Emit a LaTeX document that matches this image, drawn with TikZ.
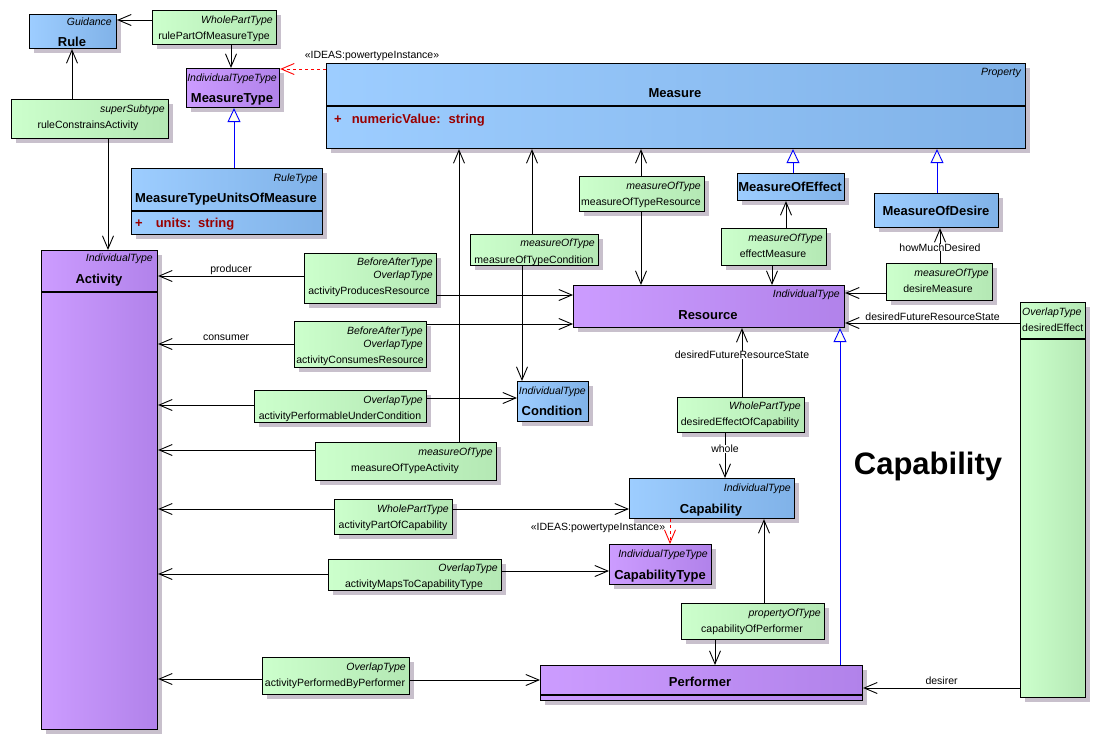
\documentclass[tikz,border=0pt]{standalone}
\usepackage{fontspec}
\setmainfont{Liberation Sans}
\usetikzlibrary{arrows.meta,shadows}

\definecolor{blueL}{HTML}{9DCDFF}
\definecolor{blueR}{HTML}{80B2E8}
\definecolor{purpL}{HTML}{CC9CFF}
\definecolor{purpR}{HTML}{B182EA}
\definecolor{greenL}{HTML}{CCFFCC}
\definecolor{greenR}{HTML}{B4E8B4}
\definecolor{shadowgrey}{HTML}{C8C0CC}
\definecolor{attrred}{HTML}{990000}
\definecolor{tipfill}{HTML}{FFFFF0}

\begin{document}
\begin{tikzpicture}[x=1pt,y=-1pt,
  umlbox/.style={draw,line width=1.1pt,anchor=north west,inner sep=0pt,
    drop shadow={shadow xshift=4pt,shadow yshift=-4pt,opacity=1,fill=shadowgrey}},
  bluebox/.style={umlbox,left color=blueL,right color=blueR},
  purplebox/.style={umlbox,left color=purpL,right color=purpR},
  greenbox/.style={umlbox,left color=greenL,right color=greenR},
  txt/.style={inner sep=0pt,text height=7.5pt,text depth=0pt,font=\fontsize{10.5}{12}\selectfont},
  ster/.style={txt,anchor=east,font=\fontsize{10.5}{12}\selectfont\itshape},
  nm/.style={inner sep=0pt,text height=9.3pt,text depth=0pt,font=\fontsize{13}{15}\selectfont\bfseries},
  attr/.style={nm,anchor=west,text=attrred},
  nav/.style={line width=0.9pt,-{Straight Barb[length=13pt,width=11pt]}},
  gen/.style={line width=0.9pt,blue,-{Triangle[length=14pt,width=13pt,fill=tipfill]}},
  dep/.style={line width=0.9pt,red,dashed,-{Straight Barb[length=13pt,width=11pt]}},
  sep/.style={line width=1.1pt}
]
\useasboundingbox (0,0) rectangle (1096,740);

% Rule and measure types
\node[bluebox,minimum width=87,minimum height=34] (rule) at (29,14) {};
\node[ster] (rule-st) at (112,22) {Guidance};
\node[nm] (rule-nm) at (72,42) {Rule};

\node[greenbox,minimum width=124,minimum height=34] (rpomt) at (152,10) {};
\node[ster] (rpomt-st) at (273,20) {WholePartType};
\node[txt] (rpomt-nm) at (214,36) {rulePartOfMeasureType};

\node[purplebox,minimum width=93,minimum height=39] (mtype) at (186,68) {};
\node[ster] (mtype-st) at (277,78) {IndividualTypeType};
\node[nm] (mtype-nm) at (232,98) {MeasureType};

\node[greenbox,minimum width=157,minimum height=39] (rca) at (11,99) {};
\node[ster] (rca-st) at (165,109) {superSubtype};
\node[txt] (rca-nm) at (88,125) {ruleConstrainsActivity};

\node[bluebox,minimum width=191,minimum height=66] (mtuom) at (131,168) {};
\draw[sep] (mtuom.west |- 0,211) -- (mtuom.east |- 0,211);
\node[ster] (mtuom-st) at (318,178) {RuleType};
\node[nm] (mtuom-nm) at (226,198) {MeasureTypeUnitsOfMeasure};
\node[attr] (mtuom-at) at (135,223) {+\hspace{13pt}units:\hspace{7pt}string};

% Measure
\node[bluebox,minimum width=699,minimum height=85] (measure) at (326,63) {};
\draw[sep] (measure.west |- 0,106) -- (measure.east |- 0,106);
\node[ster] (measure-st) at (1021,72) {Property};
\node[nm] (measure-nm) at (675,93) {Measure};
\node[attr] (measure-at) at (334,119) {+\hspace{10pt}numericValue:\hspace{8pt}string};
\node[txt] (pti1) at (372,55) {«IDEAS:powertypeInstance»};

\node[greenbox,minimum width=125,minimum height=35] (mofr) at (579,176) {};
\node[ster] (mofr-st) at (701,186) {measureOfType};
\node[txt] (mofr-nm) at (641,202) {measureOfTypeResource};

\node[bluebox,minimum width=107,minimum height=27] (moe) at (737,173) {};
\node[nm] (moe-nm) at (790,187) {MeasureOfEffect};

\node[bluebox,minimum width=124,minimum height=34] (mod) at (874,193) {};
\node[nm] (mod-nm) at (936,211) {MeasureOfDesire};

\node[greenbox,minimum width=105,minimum height=37] (em) at (721,228) {};
\node[ster] (em-st) at (823,238) {measureOfType};
\node[txt] (em-nm) at (773,254) {effectMeasure};

\node[greenbox,minimum width=106,minimum height=37] (dm) at (886,263) {};
\node[ster] (dm-st) at (989,273) {measureOfType};
\node[txt] (dm-nm) at (938,289) {desireMeasure};

\node[greenbox,minimum width=128,minimum height=31] (moc) at (470,234) {};
\node[ster] (moc-st) at (595,243) {measureOfType};
\node[txt] (moc-nm) at (534,260) {measureOfTypeCondition};

% Activity and its relations
\node[purplebox,minimum width=116,minimum height=479] (activity) at (41,250) {};
\draw[sep] (activity.west |- 0,292) -- (activity.east |- 0,292);
\node[ster] (activity-st) at (153,258) {IndividualType};
\node[nm] (activity-nm) at (99,279) {Activity};

\node[greenbox,minimum width=132,minimum height=50] (apr) at (304,253) {};
\node[ster] (apr-st1) at (433,262) {BeforeAfterType};
\node[ster] (apr-st2) at (433,275) {OverlapType};
\node[txt] (apr-nm) at (369,291) {activityProducesResource};

\node[greenbox,minimum width=132,minimum height=46] (acr) at (294,321) {};
\node[ster] (acr-st1) at (423,331) {BeforeAfterType};
\node[ster] (acr-st2) at (423,344) {OverlapType};
\node[txt] (acr-nm) at (360,360) {activityConsumesResource};

\node[greenbox,minimum width=172,minimum height=32] (apuc) at (254,390) {};
\node[ster] (apuc-st) at (423,400) {OverlapType};
\node[txt] (apuc-nm) at (340,416) {activityPerformableUnderCondition};

\node[greenbox,minimum width=181,minimum height=38] (mota) at (315,442) {};
\node[ster] (mota-st) at (493,452) {measureOfType};
\node[txt] (mota-nm) at (405,468) {measureOfTypeActivity};

\node[greenbox,minimum width=118,minimum height=35] (apoc) at (334,499) {};
\node[ster] (apoc-st) at (449,509) {WholePartType};
\node[txt] (apoc-nm) at (393,525) {activityPartOfCapability};

\node[greenbox,minimum width=173,minimum height=31] (amtct) at (328,559) {};
\node[ster] (amtct-st) at (498,568) {OverlapType};
\node[txt] (amtct-nm) at (414,584) {activityMapsToCapabilityType};

\node[greenbox,minimum width=147,minimum height=37] (apbp) at (262,657) {};
\node[ster] (apbp-st) at (406,667) {OverlapType};
\node[txt] (apbp-nm) at (335,683) {activityPerformedByPerformer};

% Resource, condition, capability
\node[purplebox,minimum width=271,minimum height=42] (resource) at (573,285) {};
\node[ster] (resource-st) at (840,294) {IndividualType};
\node[nm] (resource-nm) at (708,315) {Resource};

\node[greenbox,minimum width=65,minimum height=395] (de) at (1020,302) {};
\draw[sep] (de.west |- 0,339) -- (de.east |- 0,339);
\node[ster,anchor=west] (de-st) at (1022,312) {OverlapType};
\node[txt,anchor=west] (de-nm) at (1022,328) {desiredEffect};

\node[bluebox,minimum width=71,minimum height=40] (condition) at (517,381) {};
\node[ster] (condition-st) at (586,391) {IndividualType};
\node[nm] (condition-nm) at (552,411) {Condition};

\node[greenbox,minimum width=127,minimum height=35] (deoc) at (677,397) {};
\node[ster] (deoc-st) at (801,406) {WholePartType};
\node[txt] (deoc-nm) at (740,422) {desiredEffectOfCapability};

\node[bluebox,minimum width=165,minimum height=40] (capability) at (629,478) {};
\node[ster] (capability-st) at (791,488) {IndividualType};
\node[nm] (capability-nm) at (711,509) {Capability};

\node[purplebox,minimum width=102,minimum height=40] (captype) at (609,544) {};
\node[ster] (captype-st) at (708,554) {IndividualTypeType};
\node[nm] (captype-nm) at (660,575) {CapabilityType};
\node[txt] (pti2) at (598,527) {«IDEAS:powertypeInstance»};

\node[greenbox,minimum width=143,minimum height=36] (cop) at (681,603) {};
\node[ster] (cop-st) at (821,613) {propertyOfType};
\node[txt] (cop-nm) at (752,629) {capabilityOfPerformer};

\node[purplebox,minimum width=322,minimum height=35] (performer) at (540,665) {};
\draw[sep] (performer.west |- 0,695) -- (performer.east |- 0,695);
\node[nm] (performer-nm) at (700,682) {Performer};

\node[inner sep=0pt,font=\fontsize{31}{36}\selectfont\bfseries] (title) at (928,466) {Capability};

% connectors
\draw[nav] (rpomt.west |- 0,20) -- (rule.east |- 0,20);
\draw[nav] (rpomt.south -| 231,0) -- (mtype.north -| 231,0);
\draw[nav] (rca.north -| 72,0) -- (rule.south -| 72,0);
\draw[nav] (rca.south -| 108,0) -- (activity.north -| 108,0);
\draw[gen] (mtuom.north -| 234,0) -- (mtype.south -| 234,0);
\draw[dep] (measure.west |- 0,69) -- (mtype.east |- 0,69);
\draw[nav] (mota.north -| 459,0) -- (measure.south -| 459,0);
\draw[nav] (moc.north -| 532,0) -- (measure.south -| 532,0);
\draw[nav] (moc.south -| 522,0) -- (condition.north -| 522,0);
\draw[nav] (mofr.north -| 641,0) -- (measure.south -| 641,0);
\draw[nav] (mofr.south -| 641,0) -- (resource.north -| 641,0);
\draw[gen] (moe.north -| 793,0) -- (measure.south -| 793,0);
\draw[gen] (mod.north -| 937,0) -- (measure.south -| 937,0);
\draw[nav] (em.north -| 786,0) -- (moe.south -| 786,0);
\draw[nav] (em.south -| 772,0) -- (resource.north -| 772,0);
\draw[nav] (dm.north -| 940,0) -- node[txt,fill=white,pos=0.45] {howMuchDesired} (mod.south -| 940,0);
\draw[nav] (dm.west |- 0,293) -- (resource.east |- 0,293);
\draw[nav] (de.west |- 0,323) -- node[txt,above=2pt] {desiredFutureResourceState} (resource.east |- 0,323);
\draw[nav] (apr.west |- 0,276) -- node[txt,above=3pt] {producer} (activity.east |- 0,276);
\draw[nav] (apr.east |- 0,295) -- (resource.west |- 0,295);
\draw[nav] (acr.west |- 0,344) -- node[txt,above=3pt] {consumer} (activity.east |- 0,344);
\draw[nav] (acr.east |- 0,324) -- (resource.west |- 0,324);
\draw[nav] (apuc.west |- 0,405) -- (activity.east |- 0,405);
\draw[nav] (apuc.east |- 0,398) -- (condition.west |- 0,398);
\draw[nav] (mota.west |- 0,450) -- (activity.east |- 0,450);
\draw[nav] (deoc.north -| 742,0) -- node[txt,fill=white,pos=0.61] {desiredFutureResourceState} (resource.south -| 742,0);
\draw[nav] (deoc.south -| 725,0) -- node[txt,fill=white,pos=0.35] {whole} (capability.north -| 725,0);
\draw[nav] (apoc.west |- 0,509) -- (activity.east |- 0,509);
\draw[nav] (apoc.east |- 0,509) -- (capability.west |- 0,509);
\draw[dep] (capability.south -| 670,0) -- (captype.north -| 670,0);
\draw[nav] (amtct.west |- 0,574) -- (activity.east |- 0,574);
\draw[nav] (amtct.east |- 0,571) -- (captype.west |- 0,571);
\draw[nav] (cop.north -| 764,0) -- (capability.south -| 764,0);
\draw[nav] (cop.south -| 715,0) -- (performer.north -| 715,0);
\draw[gen] (performer.north -| 840,0) -- (resource.south -| 840,0);
\draw[nav] (apbp.west |- 0,679) -- (activity.east |- 0,679);
\draw[nav] (apbp.east |- 0,680) -- (performer.west |- 0,680);
\draw[nav] (de.west |- 0,688) -- node[txt,above=3pt] {desirer} (performer.east |- 0,688);
\end{tikzpicture}
\end{document}
